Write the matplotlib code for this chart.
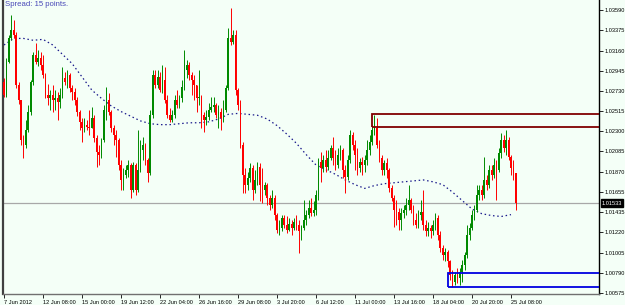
import numpy as np
import matplotlib
matplotlib.use("Agg")
import matplotlib.pyplot as plt
import matplotlib.transforms as mtransforms
from matplotlib.patches import Rectangle

# EURCHF-style H4 candles
first_open = 1.0283
closes = [
    1.0269, 1.0304, 1.0329, 1.0338, 1.0333, 1.0279, 1.0263, 1.0221, 1.0215, 1.0231,
    1.0251, 1.0283, 1.0311, 1.0304, 1.0308, 1.0301, 1.0290, 1.0269, 1.0265, 1.0269,
    1.0263, 1.0265, 1.0261, 1.0269, 1.0287, 1.0283, 1.0290, 1.0276, 1.0272, 1.0263,
    1.0251, 1.0240, 1.0233, 1.0237, 1.0235, 1.0233, 1.0244, 1.0223, 1.0208, 1.0205,
    1.0221, 1.0253, 1.0263, 1.0251, 1.0233, 1.0226, 1.0221, 1.0194, 1.0178, 1.0183,
    1.0189, 1.0194, 1.0167, 1.0194, 1.0167, 1.0189, 1.0210, 1.0215, 1.0199, 1.0185,
    1.0247, 1.0290, 1.0279, 1.0288, 1.0274, 1.0285, 1.0263, 1.0247, 1.0242, 1.0247,
    1.0263, 1.0258, 1.0265, 1.0277, 1.0295, 1.0301, 1.0290, 1.0285, 1.0279, 1.0265,
    1.0267, 1.0247, 1.0242, 1.0245, 1.0253, 1.0256, 1.0258, 1.0247, 1.0251, 1.0244,
    1.0253, 1.0276, 1.0329, 1.0325, 1.0333, 1.0274, 1.0258, 1.0215, 1.0183, 1.0173,
    1.0180, 1.0191, 1.0167, 1.0178, 1.0192, 1.0173, 1.0167, 1.0173, 1.0159, 1.0151,
    1.0159, 1.0141, 1.0125, 1.0127, 1.0137, 1.0130, 1.0125, 1.0131, 1.0127, 1.0133,
    1.0130, 1.0123, 1.0127, 1.0135, 1.0141, 1.0148, 1.0143, 1.0146, 1.0162, 1.0197,
    1.0191, 1.0199, 1.0192, 1.0201, 1.0212, 1.0201, 1.0194, 1.0205, 1.0210, 1.0189,
    1.0181, 1.0199, 1.0226, 1.0215, 1.0205, 1.0191, 1.0197, 1.0194, 1.0199, 1.0210,
    1.0219, 1.0231, 1.0233, 1.0215, 1.0201, 1.0189, 1.0196, 1.0189, 1.0169, 1.0159,
    1.0146, 1.0144, 1.0135, 1.0143, 1.0146, 1.0151, 1.0157, 1.0146, 1.0135, 1.0130,
    1.0141, 1.0144, 1.0130, 1.0123, 1.0127, 1.0123, 1.0130, 1.0137, 1.0119, 1.0105,
    1.0098, 1.0101, 1.0091, 1.0077, 1.0069, 1.0077, 1.0073, 1.0080, 1.0087, 1.0098,
    1.0119, 1.0127, 1.0141, 1.0146, 1.0162, 1.0167, 1.0162, 1.0178, 1.0173, 1.0189,
    1.0183, 1.0194, 1.0189, 1.0207, 1.0221, 1.0212, 1.0221, 1.0203, 1.0191, 1.0185,
    1.01533,
]
highs = [
    1.0287, 1.0308, 1.0333, 1.0354, 1.0349, 1.0336, 1.0283, 1.0263, 1.0226, 1.0242,
    1.0258, 1.0285, 1.0315, 1.0324, 1.0317, 1.0315, 1.0311, 1.0292, 1.0280, 1.0274,
    1.0279, 1.0274, 1.0272, 1.0276, 1.0299, 1.0293, 1.0295, 1.0292, 1.0279, 1.0276,
    1.0267, 1.0253, 1.0244, 1.0244, 1.0242, 1.0253, 1.0256, 1.0247, 1.0226, 1.0215,
    1.0223, 1.0258, 1.0277, 1.0271, 1.0253, 1.0237, 1.0231, 1.0223, 1.0199, 1.0191,
    1.0194, 1.0199, 1.0196, 1.0197, 1.0196, 1.0231, 1.0221, 1.0224, 1.0217, 1.0201,
    1.0253, 1.0295, 1.0295, 1.0295, 1.0293, 1.0301, 1.0299, 1.0269, 1.0255, 1.0253,
    1.0269, 1.0274, 1.0269, 1.0285, 1.0317, 1.0306, 1.0304, 1.0293, 1.0290, 1.0276,
    1.0295, 1.0269, 1.0251, 1.0253, 1.0260, 1.0267, 1.0267, 1.0260, 1.0258, 1.0255,
    1.0263, 1.0279, 1.0340, 1.0361, 1.0338, 1.0338, 1.0276, 1.0263, 1.0219, 1.0191,
    1.0187, 1.0196, 1.0194, 1.0189, 1.0197, 1.0196, 1.0191, 1.0176, 1.0175, 1.0162,
    1.0167, 1.0162, 1.0143, 1.0135, 1.0141, 1.0141, 1.0139, 1.0137, 1.0135, 1.0137,
    1.0141, 1.0135, 1.0130, 1.0157, 1.0146, 1.0157, 1.0159, 1.0155, 1.0167, 1.0201,
    1.0208, 1.0205, 1.0210, 1.0210, 1.0215, 1.0224, 1.0210, 1.0212, 1.0215, 1.0212,
    1.0194, 1.0205, 1.0231, 1.0229, 1.0221, 1.0212, 1.0201, 1.0203, 1.0205, 1.0221,
    1.0226, 1.0237, 1.0247, 1.0244, 1.0221, 1.0205, 1.0199, 1.0201, 1.0191, 1.0173,
    1.0162, 1.0157, 1.0148, 1.0148, 1.0151, 1.0159, 1.0173, 1.0159, 1.0151, 1.0143,
    1.0146, 1.0157, 1.0167, 1.0135, 1.0133, 1.0130, 1.0135, 1.0143, 1.0141, 1.0123,
    1.0109, 1.0105, 1.0103, 1.0093, 1.0082, 1.0080, 1.0084, 1.0084, 1.0093, 1.0101,
    1.0130, 1.0132, 1.0146, 1.0151, 1.0173, 1.0173, 1.0173, 1.0203, 1.0183, 1.0194,
    1.0194, 1.0201, 1.0199, 1.0212, 1.0228, 1.0226, 1.0231, 1.0224, 1.0205, 1.0199,
    1.0183,
]
lows = [
    1.0267, 1.0267, 1.0303, 1.0327, 1.0329, 1.0276, 1.0259, 1.0215, 1.0201, 1.0212,
    1.0229, 1.0247, 1.0279, 1.0302, 1.0300, 1.0295, 1.0287, 1.0265, 1.0258, 1.0253,
    1.0251, 1.0253, 1.0242, 1.0255, 1.0265, 1.0279, 1.0276, 1.0272, 1.0263, 1.0258,
    1.0246, 1.0231, 1.0219, 1.0229, 1.0231, 1.0226, 1.0233, 1.0219, 1.0192, 1.0194,
    1.0201, 1.0219, 1.0242, 1.0247, 1.0229, 1.0215, 1.0203, 1.0189, 1.0167, 1.0167,
    1.0180, 1.0181, 1.0159, 1.0165, 1.0162, 1.0165, 1.0187, 1.0199, 1.0194, 1.0176,
    1.0183, 1.0244, 1.0276, 1.0276, 1.0272, 1.0271, 1.0260, 1.0244, 1.0240, 1.0240,
    1.0244, 1.0255, 1.0255, 1.0261, 1.0274, 1.0287, 1.0285, 1.0269, 1.0263, 1.0251,
    1.0258, 1.0233, 1.0229, 1.0237, 1.0242, 1.0251, 1.0251, 1.0244, 1.0233, 1.0231,
    1.0240, 1.0251, 1.0274, 1.0322, 1.0323, 1.0269, 1.0253, 1.0212, 1.0164, 1.0164,
    1.0167, 1.0176, 1.0157, 1.0164, 1.0173, 1.0155, 1.0153, 1.0162, 1.0151, 1.0146,
    1.0148, 1.0135, 1.0121, 1.0119, 1.0123, 1.0127, 1.0121, 1.0123, 1.0119, 1.0125,
    1.0125, 1.0100, 1.0114, 1.0125, 1.0130, 1.0137, 1.0139, 1.0140, 1.0141, 1.0157,
    1.0176, 1.0187, 1.0187, 1.0189, 1.0199, 1.0194, 1.0189, 1.0191, 1.0199, 1.0180,
    1.0164, 1.0178, 1.0196, 1.0210, 1.0189, 1.0183, 1.0187, 1.0183, 1.0187, 1.0194,
    1.0205, 1.0215, 1.0226, 1.0212, 1.0197, 1.0183, 1.0183, 1.0180, 1.0165, 1.0155,
    1.0128, 1.0130, 1.0125, 1.0125, 1.0137, 1.0141, 1.0146, 1.0143, 1.0130, 1.0127,
    1.0127, 1.0135, 1.0125, 1.0118, 1.0118, 1.0116, 1.0119, 1.0125, 1.0114, 1.0101,
    1.0093, 1.0091, 1.0085, 1.0071, 1.0064, 1.0066, 1.0068, 1.0066, 1.0069, 1.0082,
    1.0095, 1.0114, 1.0125, 1.0135, 1.0144, 1.0157, 1.0157, 1.0159, 1.0167, 1.0169,
    1.0178, 1.0180, 1.0157, 1.0187, 1.0201, 1.0208, 1.0205, 1.0199, 1.0183, 1.0178,
    1.0146,
]

# moving average, sampled every 4th bar
ma_step = 4
ma_values = [
    1.0322, 1.0329, 1.0329, 1.0327, 1.0328, 1.0322, 1.0312, 1.0302, 1.0288, 1.0274,
    1.0265, 1.0257, 1.0251, 1.0246, 1.0241, 1.0238, 1.0237, 1.0237, 1.0238, 1.0239,
    1.0239, 1.0240, 1.0243, 1.0248, 1.0249, 1.0248, 1.0247, 1.0243, 1.0236, 1.0227,
    1.0217, 1.0205, 1.0194, 1.0189, 1.0184, 1.0178, 1.0173, 1.0169, 1.0172, 1.0174,
    1.0175, 1.0176, 1.0177, 1.0178, 1.0176, 1.0173, 1.0165, 1.0156, 1.0147, 1.0142,
    1.0140, 1.0139, 1.0141,
]

time_labels = ["7 Jun 2012", "12 Jun 08:00", "15 Jun 00:00", "19 Jun 12:00",
               "22 Jun 04:00", "26 Jun 16:00", "29 Jun 08:00", "3 Jul 20:00",
               "6 Jul 12:00", "11 Jul 00:00", "13 Jul 16:00", "18 Jul 04:00",
               "20 Jul 20:00", "25 Jul 08:00"]
bars_per_label = 16

price_ticks = [1.03590, 1.03375, 1.03160, 1.02945, 1.02730, 1.02515, 1.02300,
               1.02085, 1.01870, 1.01655, 1.01435, 1.01220, 1.01005, 1.00790,
               1.00575]
bid = 1.01533

# rectangles drawn on the chart: (start bar, low, high)
resistance_zone = (151, 1.02343, 1.02483)
support_zone = (182, 1.00635, 1.00790)

BG = "#F4FFF7"
UP = "#008A00"
DOWN = "#FF0000"
LABEL_FONT = ["Liberation Sans", "DejaVu Sans"]
LABEL_SIZE = 4.1


def main():
    c = np.array(closes)
    h = np.array(highs)
    l = np.array(lows)
    o = np.r_[first_open, c[:-1]]
    x = np.arange(len(c))
    h = np.maximum(h, np.maximum(o, c))
    l = np.minimum(l, np.minimum(o, c))

    fig = plt.figure(figsize=(6.25, 3.05), dpi=100, facecolor=BG)
    ax = fig.add_axes([3 / 625, 11 / 305, 596 / 625, 294 / 305], facecolor=BG)

    up = c >= o
    body = np.maximum(np.abs(c - o), 0.00004)
    for mask, col in ((up, UP), (~up, DOWN)):
        ax.vlines(x[mask], l[mask], h[mask], color=col, linewidth=0.7, zorder=3)
        ax.bar(x[mask], body[mask], bottom=np.minimum(o, c)[mask], width=0.7,
               color=col, linewidth=0, zorder=4)

    ma_x = np.arange(len(ma_values)) * ma_step
    ax.plot(ma_x, ma_values, color="#1A1A8C", linewidth=0.9,
            linestyle=(0, (1.2, 2.2)), zorder=2)

    ax.axhline(bid, color="#A8A8A8", linewidth=0.9, zorder=1)

    for (start, lo, hi), col in ((resistance_zone, "#800000"), (support_zone, "#0000E0")):
        ax.add_patch(Rectangle((start, lo), 200, hi - lo, fill=False,
                               edgecolor=col, linewidth=1.3, zorder=5))

    ax.set_xlim(-0.4, 244.1)
    ax.set_ylim(1.00563, 1.03700)

    ax.spines["top"].set_visible(False)
    ax.spines["left"].set_color("#404040")
    ax.spines["left"].set_linewidth(1.6)
    ax.spines["bottom"].set_color("#707070")
    ax.spines["bottom"].set_linewidth(1.0)
    ax.spines["right"].set_color("black")
    ax.spines["right"].set_linewidth(1.0)

    ax.yaxis.tick_right()
    ax.set_yticks(price_ticks)
    ax.set_yticklabels([f"{p:.5f}" for p in price_ticks])
    ax.tick_params(axis="y", length=3, width=0.6, pad=1, labelsize=LABEL_SIZE,
                   colors="black")

    ax.set_xticks(np.arange(len(time_labels)) * bars_per_label)
    ax.set_xticklabels(time_labels)
    ax.tick_params(axis="x", length=3, width=0.6, pad=1.5, labelsize=LABEL_SIZE,
                   colors="black")
    for lab in ax.get_xticklabels() + ax.get_yticklabels():
        lab.set_family(LABEL_FONT)
    for lab in ax.get_xticklabels():
        lab.set_horizontalalignment("left")

    trans = mtransforms.blended_transform_factory(ax.transAxes, ax.transData)
    ax.text(1.0045, bid, f"{bid:.5f}", transform=trans, ha="left", va="center",
            fontsize=LABEL_SIZE, color="white", family=LABEL_FONT, zorder=6,
            bbox=dict(facecolor="black", edgecolor="black", pad=0.8))

    ax.text(0.004, 0.995, "Spread: 15 points.", transform=ax.transAxes,
            ha="left", va="top", fontsize=5.6, color="#4848B8",
            family=["Liberation Sans", "DejaVu Sans"])

    fig.savefig("out.png", dpi=100, facecolor=BG)


if __name__ == "__main__":
    main()
